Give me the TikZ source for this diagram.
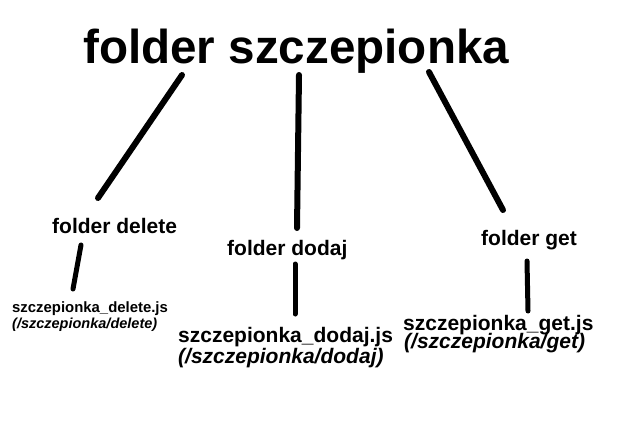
\documentclass[tikz,border=0pt]{standalone}
\usepackage{fontspec}
\setmainfont{Liberation Sans}
\begin{document}
\begin{tikzpicture}[x=1pt,y=-1pt,
  lbl/.style={inner sep=0pt,anchor=base west,font=\bfseries\fontsize{21}{24}\selectfont},
  big/.style={line width=6pt,line cap=round},
  conn/.style={line width=5pt,line cap=round}]
\useasboundingbox[fill=white] (0,0) rectangle (621,431);
\node[lbl,font=\bfseries\fontsize{47.6}{52}\selectfont] (title) at (83,63) {folder szczepionka};
\node[lbl] (fdel) at (52,233) {folder delete};
\node[lbl] (fdod) at (227,255) {folder dodaj};
\node[lbl] (fget) at (481,245) {folder get};
\node[lbl,font=\bfseries\fontsize{14.9}{17}\selectfont] (del1) at (12,312) {szczepionka\_delete.js};
\node[lbl,font=\bfseries\itshape\fontsize{14.5}{17}\selectfont] (del2) at (12,328) {(/szczepionka/delete)};
\node[lbl] (dod1) at (178,342) {szczepionka\_dodaj.js};
\node[lbl,font=\bfseries\itshape\fontsize{21}{24}\selectfont] (dod2) at (178,363) {(/szczepionka/dodaj)};
\node[lbl] (get1) at (403,330) {szczepionka\_get.js};
\node[lbl,font=\bfseries\itshape\fontsize{21}{24}\selectfont] (get2) at (404,348) {(/szczepionka/get)};
\coordinate (tl) at (182,75);
\coordinate (tm) at (299,75);
\coordinate (tr) at (429,72);
\coordinate (del) at (98,198);
\coordinate (dod) at (297,228);
\coordinate (get) at (503,210);
\coordinate (dela) at (81,245);
\coordinate (delb) at (73,289);
\coordinate (doda) at (295,264);
\coordinate (dodb) at (295,314);
\coordinate (geta) at (527,261);
\coordinate (getb) at (528,311);
\draw[big] (tl) -- (del);
\draw[big] (tm) -- (dod);
\draw[big] (tr) -- (get);
\draw[conn] (dela) -- (delb);
\draw[conn] (doda) -- (dodb);
\draw[conn] (geta) -- (getb);
\end{tikzpicture}
\end{document}
